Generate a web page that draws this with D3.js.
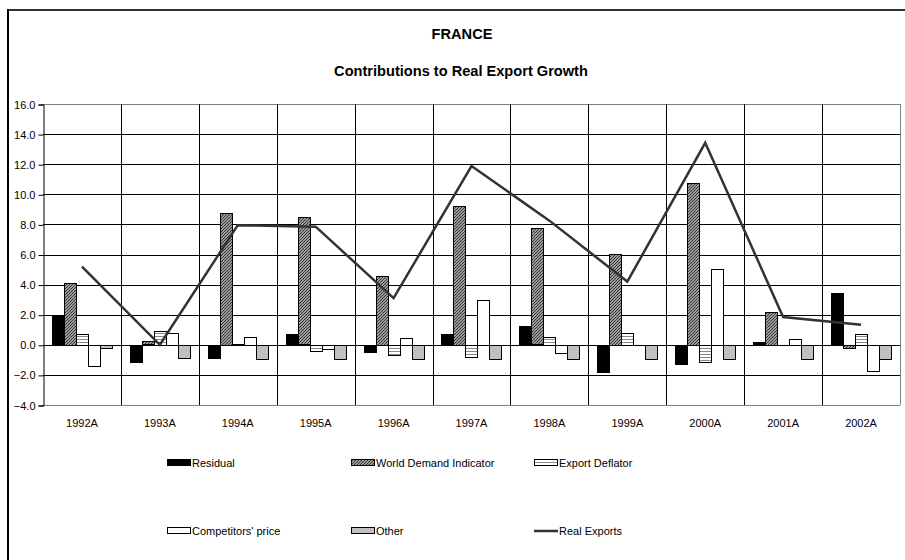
<!DOCTYPE html>
<html><head><meta charset="utf-8">
<script src="https://cdn.jsdelivr.net/npm/d3@7/dist/d3.min.js"></script>
<style>body{margin:0;background:#fff;} svg{display:block;font-family:"Liberation Sans",Arial,sans-serif;}</style>
</head><body>
<svg id="c" width="905" height="560"></svg>
<script>
const categories = ["1992A","1993A","1994A","1995A","1996A","1997A","1998A","1999A","2000A","2001A","2002A"];
const residual = [1.95,-1.1,-0.88,0.73,-0.44,0.71,1.26,-1.79,-1.26,0.2,3.43];
const worldDemand = [4.1,0.22,8.78,8.47,4.6,9.22,7.74,6.02,10.77,2.21,-0.2];
const exportDeflator = [0.7,0.9,0.05,-0.38,-0.64,-0.82,0.55,0.78,-1.1,0.02,0.73];
const competitorsPrice = [-1.37,0.78,0.51,-0.25,0.44,3.0,-0.55,0.02,5.04,0.38,-1.7];
const other = [-0.22,-0.88,-0.9,-0.9,-0.9,-0.9,-0.9,-0.9,-0.9,-0.9,-0.9];
const realExports = [5.2,0.0,7.95,7.85,3.1,11.88,8.25,4.2,13.42,1.84,1.33];
const yTicks = [-4,-2,0,2,4,6,8,10,12,14,16];
const seriesNames = ["Residual","World Demand Indicator","Export Deflator","Competitors' price","Other","Real Exports"];

const svg = d3.select("#c");
const defs = svg.append("defs");
const ph = defs.append("pattern").attr("id","hatch").attr("patternUnits","userSpaceOnUse").attr("width",3).attr("height",3);
ph.append("rect").attr("width",3).attr("height",3).attr("fill","#fff");
ph.append("path").attr("d","M-1,1 l2,-2 M0,3 l3,-3 M2,4 l2,-2").attr("stroke","#333").attr("stroke-width",1.4);
const pe = defs.append("pattern").attr("id","hstripe").attr("patternUnits","userSpaceOnUse").attr("width",4).attr("height",3);
pe.append("rect").attr("width",4).attr("height",3).attr("fill","#fff");
pe.append("rect").attr("y",0).attr("width",4).attr("height",1).attr("fill","#888");

const fills = ["#000","url(#hatch)","url(#hstripe)","#fff","#c0c0c0"];
const barSeries = [residual,worldDemand,exportDeflator,competitorsPrice,other];

// outer frame
svg.append("line").attr("x1",8).attr("x2",905).attr("y1",10).attr("y2",10).attr("stroke","#333").attr("stroke-width",2);
svg.append("line").attr("x1",8).attr("x2",8).attr("y1",9).attr("y2",560).attr("stroke","#000").attr("stroke-width",2);

svg.append("text").attr("x",462).attr("y",39).attr("text-anchor","middle").attr("font-weight","bold").attr("font-size",14.6).text("FRANCE");
svg.append("text").attr("x",461).attr("y",76).attr("text-anchor","middle").attr("font-weight","bold").attr("font-size",14.6).text("Contributions to Real Export Growth");

const L=43, R=900, T=104, B=405;
const x = d3.scaleBand().domain(categories).range([L,R]);
const y = d3.scaleLinear().domain([-4,16]).range([B,T]);

const g = svg.append("g");
g.selectAll(".hg").data(yTicks).join("line")
  .attr("x1",L).attr("x2",R).attr("y1",d=>Math.round(y(d))+0.5).attr("y2",d=>Math.round(y(d))+0.5)
  .attr("stroke",d=>(d===16||d===-4)?"#808080":"#000").attr("stroke-width",1);
g.selectAll(".vg").data(categories.slice(1)).join("line")
  .attr("x1",d=>Math.round(x(d))+0.5).attr("x2",d=>Math.round(x(d))+0.5).attr("y1",T).attr("y2",B)
  .attr("stroke","#000").attr("stroke-width",1);
g.append("line").attr("x1",R+0.5).attr("x2",R+0.5).attr("y1",T).attr("y2",B).attr("stroke","#808080");

const yAxis = d3.axisLeft(y).tickValues(yTicks).tickFormat(d3.format(".1f")).tickSize(5).tickPadding(3);
const ya = svg.append("g").attr("transform",`translate(${L+0.5},0.5)`).call(yAxis);
ya.select(".domain").attr("stroke","#000");
ya.selectAll("line").attr("stroke","#000");
ya.selectAll("text").attr("font-size",11).attr("fill","#000").attr("font-family","Liberation Sans, Arial, sans-serif");

svg.selectAll(".xl").data(categories).join("text")
  .attr("x",d=>x(d)+x.bandwidth()/2).attr("y",427).attr("text-anchor","middle").attr("font-size",11).text(d=>d);

const inner = d3.scaleBand().domain(d3.range(5)).range([0,60]);
const off = (x.bandwidth()-60)/2;
barSeries.forEach((vals,si)=>{
  svg.append("g").selectAll("rect").data(vals).join("rect")
    .attr("x",(d,i)=>Math.round(x(categories[i])+off+inner(si))+0.5)
    .attr("y",d=>Math.round(y(Math.max(0,d)))+0.5)
    .attr("width",inner.bandwidth())
    .attr("height",d=>Math.max(0,Math.round(Math.abs(y(d)-y(0)))))
    .attr("fill",fills[si]).attr("stroke","#000").attr("stroke-width",1);
});

const line = d3.line().x((d,i)=>x(categories[i])+x.bandwidth()/2).y(d=>y(d));
svg.append("path").datum(realExports).attr("d",line).attr("fill","none").attr("stroke","#333").attr("stroke-width",2.5);

const legPos = [[167,463],[351,463],[534,463],[167,531],[351,531],[534,531]];
seriesNames.forEach((n,i)=>{
  const [lx,ly]=legPos[i];
  if(i<5){
    svg.append("rect").attr("x",lx+0.5).attr("y",ly-3.5).attr("width",23).attr("height",6)
      .attr("fill",fills[i]).attr("stroke","#000");
  } else {
    svg.append("line").attr("x1",lx).attr("x2",lx+24).attr("y1",ly).attr("y2",ly).attr("stroke","#333").attr("stroke-width",2.5);
  }
  svg.append("text").attr("x",lx+25).attr("y",ly+4).attr("font-size",11).text(n);
});
</script>
</body></html>
